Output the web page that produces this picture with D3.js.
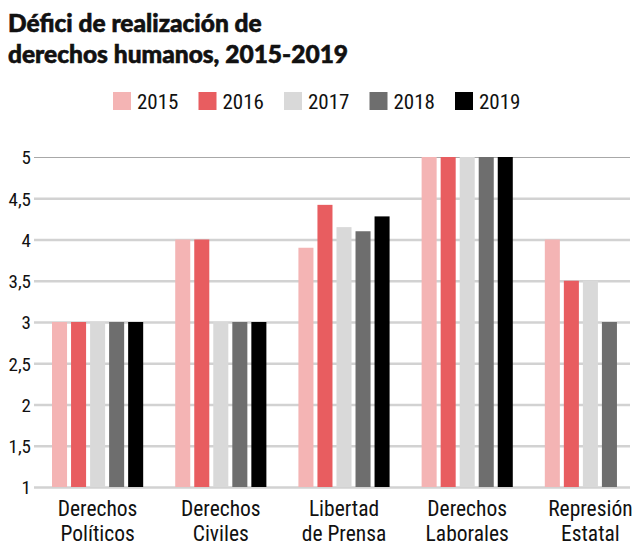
<!DOCTYPE html>
<html>
<head>
<meta charset="utf-8">
<script src="https://cdn.jsdelivr.net/npm/d3@7.9.0/dist/d3.min.js"></script>
<style>
  body { margin: 0; background: #fff; }
  svg text { fill: #111; }
  .title { font-family: Lato, "Open Sans", sans-serif; font-weight: 900; font-size: 24.5px; stroke: #111; stroke-width: 0.6px; }
  .lbl { font-family: "Roboto Condensed", "Liberation Sans Narrow", Roboto, sans-serif; }
</style>
</head>
<body>
<svg id="chart" width="638" height="555"></svg>
<script>
// data
const categories = [
  ['Derechos', 'Políticos'],
  ['Derechos', 'Civiles'],
  ['Libertad', 'de Prensa'],
  ['Derechos', 'Laborales'],
  ['Represión', 'Estatal']
];
const years = ['2015', '2016', '2017', '2018', '2019'];
const v2015 = [3, 4, 3.9, 5, 4];
const v2016 = [3, 4, 4.42, 5, 3.5];
const v2017 = [3, 3, 4.15, 5, 3.5];
const v2018 = [3, 3, 4.1, 5, 3];
const v2019 = [3, 3, 4.28, 5, null];
const yTicks = [1, 1.5, 2, 2.5, 3, 3.5, 4, 4.5, 5];
const colors = ['#f4b4b4', '#e85d60', '#d9d9d9', '#6e6e6e', '#000000'];

const series = [v2015, v2016, v2017, v2018, v2019];
const catKeys = categories.map(c => c.join(' '));

const svg = d3.select('#chart');

// title
const title = svg.append('text').attr('class', 'title').attr('x', 8);
title.append('tspan').attr('x', 8).attr('y', 32).text('Défici de realización de');
title.append('tspan').attr('x', 8).attr('y', 63).text('derechos humanos, 2015-2019');

// legend
const legend = svg.append('g');
years.forEach((yr, i) => {
  let g = legend.append('g').attr('transform', `translate(${113 + i * 85.5},92)`);
  g.append('rect').attr('width', 18).attr('height', 18).attr('fill', colors[i]);
  g.append('text').attr('class', 'lbl').attr('x', 24).attr('y', 17)
    .style('font-size', '21px').text(yr);
});

const y = d3.scaleLinear().domain([1, 5]).range([487, 157]);
const x0 = d3.scaleBand().domain(catKeys).range([36, 652]).paddingInner(0.26).paddingOuter(0.13);
const x1 = d3.scaleBand().domain(years).range([0, x0.bandwidth()]).paddingInner(0.21);

// grid + y labels
const yAxis = svg.append('g').attr('transform', 'translate(34,0)')
  .call(d3.axisRight(y).tickValues(yTicks).tickSize(596)
    .tickFormat(d => d3.format('')(d).replace('.', ',')));
yAxis.select('.domain').remove();
yAxis.selectAll('.tick line')
  .attr('stroke', d => d === 5 ? '#a8a8a8' : '#d2d2d2')
  .attr('stroke-width', d => d === 5 ? 1.2 : 2.5);
yAxis.selectAll('.tick text')
  .attr('class', 'lbl')
  .attr('x', -3).attr('dy', '0.36em')
  .attr('text-anchor', 'end')
  .style('font-size', '19px').attr('fill', '#111');

// bars
const groups = svg.append('g').selectAll('g')
  .data(catKeys)
  .join('g')
  .attr('transform', d => `translate(${x0(d)},0)`);

groups.selectAll('rect')
  .data((d, ci) => years.map((yr, si) => ({ yr, si, v: series[si][ci] })).filter(e => e.v != null))
  .join('rect')
  .attr('x', d => x1(d.yr))
  .attr('width', x1.bandwidth())
  .attr('y', d => y(d.v))
  .attr('height', d => y(1) - y(d.v))
  .attr('fill', d => colors[d.si]);

// category labels, one text per line
categories.forEach((c, i) => {
  const cx = x0(catKeys[i]) + x0.bandwidth() / 2;
  c.forEach((line, j) => {
    svg.append('text').attr('class', 'lbl').attr('text-anchor', 'middle')
      .style('font-size', '21.5px')
      .attr('x', cx).attr('y', 516 + j * 25).text(line);
  });
});
</script>
</body>
</html>
